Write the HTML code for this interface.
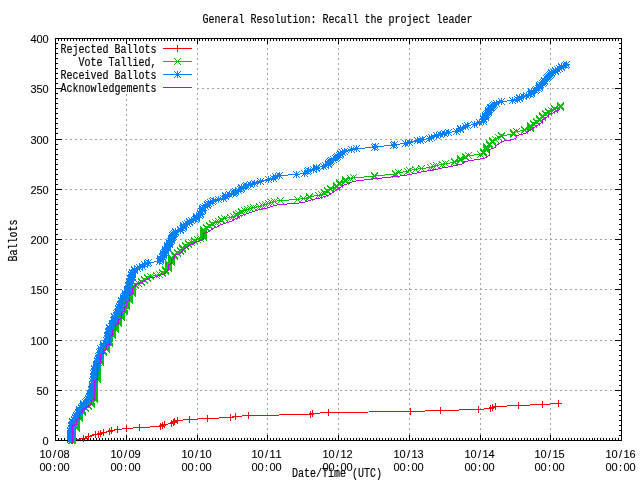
<!DOCTYPE html>
<html lang="en"><head><meta charset="utf-8"><title>General Resolution: Recall the project leader</title>
<style>
html,body{margin:0;padding:0;background:#fff;}
body{width:640px;height:480px;overflow:hidden;}
svg{display:block;}
text{font-family:"Liberation Mono",monospace;font-size:12px;fill:#000;stroke:#000;stroke-width:0.18px;filter:grayscale(1);}
text.n{font-family:"Liberation Sans",sans-serif;font-size:11px;stroke-width:0.1px;}
.ln{fill:none;stroke-width:1;}
</style></head><body>
<svg width="640" height="480" viewBox="0 0 640 480">
<rect x="0" y="0" width="640" height="480" fill="#fff"/>
<g shape-rendering="crispEdges" stroke="#a0a0a0" stroke-width="1" stroke-dasharray="2 3" fill="none">
<path d="M55 390.5H621"/>
<path d="M55 340.5H621"/>
<path d="M55 289.5H621"/>
<path d="M55 239.5H621"/>
<path d="M55 189.5H621"/>
<path d="M55 139.5H621"/>
<path d="M197 88.5H621"/>
<path d="M126.5 94V440" stroke-dashoffset="0"/>
<path d="M197.5 38V440" stroke-dashoffset="0"/>
<path d="M267.5 38V440" stroke-dashoffset="0"/>
<path d="M338.5 38V440" stroke-dashoffset="0"/>
<path d="M409.5 38V440" stroke-dashoffset="0"/>
<path d="M480.5 38V440" stroke-dashoffset="0"/>
<path d="M550.5 38V440" stroke-dashoffset="0"/>
</g>
<g shape-rendering="crispEdges" stroke="#000" stroke-width="1" fill="none">
<path d="M55 440.5h7M622 440.5h-7M55 435.5h3M622 435.5h-3M55 430.5h3M622 430.5h-3M55 425.5h3M622 425.5h-3M55 420.5h3M622 420.5h-3M55 415.5h3M622 415.5h-3M55 410.5h3M622 410.5h-3M55 405.5h3M622 405.5h-3M55 400.5h3M622 400.5h-3M55 395.5h3M622 395.5h-3M55 390.5h7M622 390.5h-7M55 385.5h3M622 385.5h-3M55 380.5h3M622 380.5h-3M55 375.5h3M622 375.5h-3M55 370.5h3M622 370.5h-3M55 365.5h3M622 365.5h-3M55 360.5h3M622 360.5h-3M55 355.5h3M622 355.5h-3M55 350.5h3M622 350.5h-3M55 345.5h3M622 345.5h-3M55 340.5h7M622 340.5h-7M55 334.5h3M622 334.5h-3M55 329.5h3M622 329.5h-3M55 324.5h3M622 324.5h-3M55 319.5h3M622 319.5h-3M55 314.5h3M622 314.5h-3M55 309.5h3M622 309.5h-3M55 304.5h3M622 304.5h-3M55 299.5h3M622 299.5h-3M55 294.5h3M622 294.5h-3M55 289.5h7M622 289.5h-7M55 284.5h3M622 284.5h-3M55 279.5h3M622 279.5h-3M55 274.5h3M622 274.5h-3M55 269.5h3M622 269.5h-3M55 264.5h3M622 264.5h-3M55 259.5h3M622 259.5h-3M55 254.5h3M622 254.5h-3M55 249.5h3M622 249.5h-3M55 244.5h3M622 244.5h-3M55 239.5h7M622 239.5h-7M55 234.5h3M622 234.5h-3M55 229.5h3M622 229.5h-3M55 224.5h3M622 224.5h-3M55 219.5h3M622 219.5h-3M55 214.5h3M622 214.5h-3M55 209.5h3M622 209.5h-3M55 204.5h3M622 204.5h-3M55 199.5h3M622 199.5h-3M55 194.5h3M622 194.5h-3M55 189.5h7M622 189.5h-7M55 184.5h3M622 184.5h-3M55 179.5h3M622 179.5h-3M55 174.5h3M622 174.5h-3M55 169.5h3M622 169.5h-3M55 164.5h3M622 164.5h-3M55 159.5h3M622 159.5h-3M55 154.5h3M622 154.5h-3M55 149.5h3M622 149.5h-3M55 144.5h3M622 144.5h-3M55 139.5h7M622 139.5h-7M55 133.5h3M622 133.5h-3M55 128.5h3M622 128.5h-3M55 123.5h3M622 123.5h-3M55 118.5h3M622 118.5h-3M55 113.5h3M622 113.5h-3M55 108.5h3M622 108.5h-3M55 103.5h3M622 103.5h-3M55 98.5h3M622 98.5h-3M55 93.5h3M622 93.5h-3M55 88.5h7M622 88.5h-7M55 83.5h3M622 83.5h-3M55 78.5h3M622 78.5h-3M55 73.5h3M622 73.5h-3M55 68.5h3M622 68.5h-3M55 63.5h3M622 63.5h-3M55 58.5h3M622 58.5h-3M55 53.5h3M622 53.5h-3M55 48.5h3M622 48.5h-3M55 43.5h3M622 43.5h-3M55 38.5h7M622 38.5h-7M55.5 441v-6M55.5 38v6M58.5 441v-3M58.5 38v3M61.5 441v-3M61.5 38v3M64.5 441v-3M64.5 38v3M67.5 441v-3M67.5 38v3M70.5 441v-3M70.5 38v3M73.5 441v-3M73.5 38v3M76.5 441v-3M76.5 38v3M79.5 441v-3M79.5 38v3M82.5 441v-3M82.5 38v3M84.5 441v-3M84.5 38v3M87.5 441v-3M87.5 38v3M90.5 441v-3M90.5 38v3M93.5 441v-3M93.5 38v3M96.5 441v-3M96.5 38v3M99.5 441v-3M99.5 38v3M102.5 441v-3M102.5 38v3M105.5 441v-3M105.5 38v3M108.5 441v-3M108.5 38v3M111.5 441v-3M111.5 38v3M114.5 441v-3M114.5 38v3M117.5 441v-3M117.5 38v3M120.5 441v-3M120.5 38v3M123.5 441v-3M123.5 38v3M126.5 441v-6M126.5 38v6M129.5 441v-3M129.5 38v3M132.5 441v-3M132.5 38v3M135.5 441v-3M135.5 38v3M138.5 441v-3M138.5 38v3M140.5 441v-3M140.5 38v3M143.5 441v-3M143.5 38v3M146.5 441v-3M146.5 38v3M149.5 441v-3M149.5 38v3M152.5 441v-3M152.5 38v3M155.5 441v-3M155.5 38v3M158.5 441v-3M158.5 38v3M161.5 441v-3M161.5 38v3M164.5 441v-3M164.5 38v3M167.5 441v-3M167.5 38v3M170.5 441v-3M170.5 38v3M173.5 441v-3M173.5 38v3M176.5 441v-3M176.5 38v3M179.5 441v-3M179.5 38v3M182.5 441v-3M182.5 38v3M185.5 441v-3M185.5 38v3M188.5 441v-3M188.5 38v3M191.5 441v-3M191.5 38v3M194.5 441v-3M194.5 38v3M197.5 441v-6M197.5 38v6M199.5 441v-3M199.5 38v3M202.5 441v-3M202.5 38v3M205.5 441v-3M205.5 38v3M208.5 441v-3M208.5 38v3M211.5 441v-3M211.5 38v3M214.5 441v-3M214.5 38v3M217.5 441v-3M217.5 38v3M220.5 441v-3M220.5 38v3M223.5 441v-3M223.5 38v3M226.5 441v-3M226.5 38v3M229.5 441v-3M229.5 38v3M232.5 441v-3M232.5 38v3M235.5 441v-3M235.5 38v3M238.5 441v-3M238.5 38v3M241.5 441v-3M241.5 38v3M244.5 441v-3M244.5 38v3M247.5 441v-3M247.5 38v3M250.5 441v-3M250.5 38v3M253.5 441v-3M253.5 38v3M255.5 441v-3M255.5 38v3M258.5 441v-3M258.5 38v3M261.5 441v-3M261.5 38v3M264.5 441v-3M264.5 38v3M267.5 441v-6M267.5 38v6M270.5 441v-3M270.5 38v3M273.5 441v-3M273.5 38v3M276.5 441v-3M276.5 38v3M279.5 441v-3M279.5 38v3M282.5 441v-3M282.5 38v3M285.5 441v-3M285.5 38v3M288.5 441v-3M288.5 38v3M291.5 441v-3M291.5 38v3M294.5 441v-3M294.5 38v3M297.5 441v-3M297.5 38v3M300.5 441v-3M300.5 38v3M303.5 441v-3M303.5 38v3M306.5 441v-3M306.5 38v3M309.5 441v-3M309.5 38v3M311.5 441v-3M311.5 38v3M314.5 441v-3M314.5 38v3M317.5 441v-3M317.5 38v3M320.5 441v-3M320.5 38v3M323.5 441v-3M323.5 38v3M326.5 441v-3M326.5 38v3M329.5 441v-3M329.5 38v3M332.5 441v-3M332.5 38v3M335.5 441v-3M335.5 38v3M338.5 441v-6M338.5 38v6M341.5 441v-3M341.5 38v3M344.5 441v-3M344.5 38v3M347.5 441v-3M347.5 38v3M350.5 441v-3M350.5 38v3M353.5 441v-3M353.5 38v3M356.5 441v-3M356.5 38v3M359.5 441v-3M359.5 38v3M362.5 441v-3M362.5 38v3M365.5 441v-3M365.5 38v3M367.5 441v-3M367.5 38v3M370.5 441v-3M370.5 38v3M373.5 441v-3M373.5 38v3M376.5 441v-3M376.5 38v3M379.5 441v-3M379.5 38v3M382.5 441v-3M382.5 38v3M385.5 441v-3M385.5 38v3M388.5 441v-3M388.5 38v3M391.5 441v-3M391.5 38v3M394.5 441v-3M394.5 38v3M397.5 441v-3M397.5 38v3M400.5 441v-3M400.5 38v3M403.5 441v-3M403.5 38v3M406.5 441v-3M406.5 38v3M409.5 441v-6M409.5 38v6M412.5 441v-3M412.5 38v3M415.5 441v-3M415.5 38v3M418.5 441v-3M418.5 38v3M421.5 441v-3M421.5 38v3M423.5 441v-3M423.5 38v3M426.5 441v-3M426.5 38v3M429.5 441v-3M429.5 38v3M432.5 441v-3M432.5 38v3M435.5 441v-3M435.5 38v3M438.5 441v-3M438.5 38v3M441.5 441v-3M441.5 38v3M444.5 441v-3M444.5 38v3M447.5 441v-3M447.5 38v3M450.5 441v-3M450.5 38v3M453.5 441v-3M453.5 38v3M456.5 441v-3M456.5 38v3M459.5 441v-3M459.5 38v3M462.5 441v-3M462.5 38v3M465.5 441v-3M465.5 38v3M468.5 441v-3M468.5 38v3M471.5 441v-3M471.5 38v3M474.5 441v-3M474.5 38v3M477.5 441v-3M477.5 38v3M480.5 441v-6M480.5 38v6M482.5 441v-3M482.5 38v3M485.5 441v-3M485.5 38v3M488.5 441v-3M488.5 38v3M491.5 441v-3M491.5 38v3M494.5 441v-3M494.5 38v3M497.5 441v-3M497.5 38v3M500.5 441v-3M500.5 38v3M503.5 441v-3M503.5 38v3M506.5 441v-3M506.5 38v3M509.5 441v-3M509.5 38v3M512.5 441v-3M512.5 38v3M515.5 441v-3M515.5 38v3M518.5 441v-3M518.5 38v3M521.5 441v-3M521.5 38v3M524.5 441v-3M524.5 38v3M527.5 441v-3M527.5 38v3M530.5 441v-3M530.5 38v3M533.5 441v-3M533.5 38v3M536.5 441v-3M536.5 38v3M538.5 441v-3M538.5 38v3M541.5 441v-3M541.5 38v3M544.5 441v-3M544.5 38v3M547.5 441v-3M547.5 38v3M550.5 441v-6M550.5 38v6M553.5 441v-3M553.5 38v3M556.5 441v-3M556.5 38v3M559.5 441v-3M559.5 38v3M562.5 441v-3M562.5 38v3M565.5 441v-3M565.5 38v3M568.5 441v-3M568.5 38v3M571.5 441v-3M571.5 38v3M574.5 441v-3M574.5 38v3M577.5 441v-3M577.5 38v3M580.5 441v-3M580.5 38v3M583.5 441v-3M583.5 38v3M586.5 441v-3M586.5 38v3M589.5 441v-3M589.5 38v3M592.5 441v-3M592.5 38v3M594.5 441v-3M594.5 38v3M597.5 441v-3M597.5 38v3M600.5 441v-3M600.5 38v3M603.5 441v-3M603.5 38v3M606.5 441v-3M606.5 38v3M609.5 441v-3M609.5 38v3M612.5 441v-3M612.5 38v3M615.5 441v-3M615.5 38v3M618.5 441v-3M618.5 38v3M621.5 441v-6M621.5 38v6"/>
<rect x="55.5" y="38.5" width="566" height="402"/>
</g>
<defs>
<clipPath id="c"><rect x="55" y="38" width="567" height="408"/></clipPath>
<path id="mp" d="M-3 .5H4M.5 -3V4" stroke-width="1" fill="none"/>
<path id="mx" d="M-3 -3L4 4M-3 4L4 -3" stroke-width="1" fill="none"/>
<path id="ms" d="M-3 .5H4M.5 -3V4M-3 -3L4 4M-3 4L4 -3" stroke-width="1" fill="none"/>
</defs>
<g stroke="#ff0000" shape-rendering="crispEdges">
<polyline class="ln" points="72.5,440.5 83.5,438.5 88.5,436.5 95.5,434.5 98.5,434.5 100.5,433.5 103.5,432.5 109.5,431.5 111.5,430.5 117.5,429.5 126.5,428.5 139.5,427.5 160.5,426.5 162.5,425.5 164.5,424.5 171.5,423.5 173.5,422.5 174.5,421.5 177.5,420.5 189.5,419.5 207.5,418.5 230.5,417.5 235.5,416.5 248.5,415.5 310.5,414.5 312.5,413.5 328.5,412.5 410.5,411.5 440.5,410.5 478.5,409.5 490.5,408.5 492.5,407.5 495.5,406.5 518.5,405.5 542.5,404.5 558.5,403.5"/>
<use href="#mp" x="72" y="440"/>
<use href="#mp" x="83" y="438"/>
<use href="#mp" x="88" y="436"/>
<use href="#mp" x="95" y="434"/>
<use href="#mp" x="98" y="434"/>
<use href="#mp" x="100" y="433"/>
<use href="#mp" x="103" y="432"/>
<use href="#mp" x="109" y="431"/>
<use href="#mp" x="111" y="430"/>
<use href="#mp" x="117" y="429"/>
<use href="#mp" x="126" y="428"/>
<use href="#mp" x="139" y="427"/>
<use href="#mp" x="160" y="426"/>
<use href="#mp" x="162" y="425"/>
<use href="#mp" x="164" y="424"/>
<use href="#mp" x="171" y="423"/>
<use href="#mp" x="173" y="422"/>
<use href="#mp" x="174" y="421"/>
<use href="#mp" x="177" y="420"/>
<use href="#mp" x="189" y="419"/>
<use href="#mp" x="207" y="418"/>
<use href="#mp" x="230" y="417"/>
<use href="#mp" x="235" y="416"/>
<use href="#mp" x="248" y="415"/>
<use href="#mp" x="310" y="414"/>
<use href="#mp" x="312" y="413"/>
<use href="#mp" x="328" y="412"/>
<use href="#mp" x="410" y="411"/>
<use href="#mp" x="440" y="410"/>
<use href="#mp" x="478" y="409"/>
<use href="#mp" x="490" y="408"/>
<use href="#mp" x="492" y="407"/>
<use href="#mp" x="495" y="406"/>
<use href="#mp" x="518" y="405"/>
<use href="#mp" x="542" y="404"/>
<use href="#mp" x="558" y="403"/>
</g>
<g clip-path="url(#c)">
<g stroke="#00c000" shape-rendering="crispEdges">
<polyline class="ln" points="72.5,440.5 72.5,439.5 72.5,438.5 72.5,437.5 72.5,436.5 72.5,435.5 72.5,434.5 72.5,433.5 72.5,432.5 72.5,431.5 72.5,430.5 72.5,429.5 76.5,428.5 76.5,427.5 76.5,426.5 76.5,425.5 76.5,424.5 76.5,423.5 76.5,422.5 76.5,421.5 76.5,420.5 76.5,419.5 79.5,418.5 79.5,417.5 79.5,416.5 79.5,415.5 79.5,414.5 79.5,413.5 82.5,412.5 82.5,411.5 82.5,410.5 82.5,409.5 85.5,408.5 85.5,407.5 88.5,406.5 88.5,405.5 91.5,404.5 91.5,403.5 91.5,402.5 91.5,401.5 91.5,400.5 94.5,399.5 94.5,398.5 94.5,397.5 94.5,396.5 94.5,395.5 94.5,394.5 94.5,393.5 94.5,392.5 94.5,391.5 94.5,390.5 94.5,389.5 94.5,388.5 94.5,387.5 94.5,386.5 94.5,385.5 94.5,384.5 94.5,383.5 94.5,382.5 94.5,381.5 94.5,380.5 97.5,379.5 97.5,378.5 97.5,377.5 97.5,376.5 97.5,375.5 97.5,374.5 97.5,373.5 97.5,372.5 97.5,371.5 97.5,370.5 97.5,369.5 97.5,368.5 97.5,367.5 97.5,366.5 97.5,365.5 97.5,364.5 97.5,363.5 100.5,362.5 100.5,361.5 100.5,360.5 100.5,359.5 100.5,358.5 100.5,357.5 100.5,356.5 100.5,355.5 100.5,354.5 100.5,353.5 103.5,352.5 103.5,351.5 103.5,350.5 106.5,349.5 106.5,348.5 106.5,347.5 106.5,346.5 106.5,345.5 106.5,344.5 109.5,343.5 109.5,342.5 109.5,341.5 109.5,340.5 109.5,338.5 109.5,337.5 109.5,336.5 112.5,335.5 112.5,334.5 112.5,333.5 112.5,332.5 112.5,331.5 112.5,330.5 115.5,329.5 115.5,328.5 115.5,327.5 115.5,326.5 115.5,325.5 115.5,324.5 118.5,323.5 118.5,322.5 118.5,321.5 118.5,320.5 118.5,319.5 118.5,318.5 121.5,317.5 121.5,316.5 121.5,315.5 121.5,314.5 121.5,313.5 121.5,312.5 124.5,311.5 124.5,310.5 124.5,309.5 124.5,308.5 124.5,307.5 126.5,306.5 126.5,305.5 126.5,304.5 126.5,303.5 126.5,302.5 126.5,301.5 129.5,300.5 129.5,299.5 129.5,298.5 129.5,297.5 129.5,296.5 129.5,295.5 129.5,294.5 132.5,293.5 132.5,292.5 132.5,291.5 132.5,290.5 132.5,289.5 132.5,288.5 132.5,287.5 132.5,286.5 135.5,285.5 135.5,284.5 138.5,283.5 141.5,282.5 141.5,281.5 144.5,280.5 144.5,279.5 147.5,278.5 147.5,277.5 150.5,276.5 156.5,275.5 159.5,274.5 162.5,273.5 162.5,272.5 165.5,271.5 165.5,270.5 165.5,269.5 168.5,268.5 168.5,267.5 168.5,266.5 168.5,265.5 168.5,264.5 168.5,263.5 171.5,262.5 171.5,261.5 171.5,260.5 171.5,259.5 171.5,258.5 171.5,257.5 174.5,256.5 174.5,255.5 174.5,254.5 177.5,253.5 177.5,252.5 180.5,251.5 180.5,250.5 182.5,249.5 182.5,248.5 182.5,247.5 185.5,246.5 185.5,245.5 188.5,244.5 188.5,243.5 191.5,242.5 194.5,241.5 194.5,240.5 197.5,239.5 200.5,238.5 203.5,237.5 203.5,236.5 203.5,235.5 203.5,234.5 203.5,233.5 203.5,232.5 203.5,231.5 203.5,230.5 203.5,229.5 206.5,228.5 206.5,227.5 209.5,226.5 209.5,225.5 212.5,224.5 212.5,223.5 215.5,222.5 218.5,221.5 221.5,220.5 221.5,219.5 224.5,218.5 230.5,217.5 233.5,216.5 236.5,215.5 236.5,214.5 238.5,213.5 241.5,212.5 241.5,211.5 244.5,210.5 247.5,209.5 250.5,208.5 253.5,207.5 259.5,206.5 262.5,205.5 265.5,204.5 268.5,203.5 271.5,202.5 274.5,201.5 280.5,200.5 297.5,199.5 303.5,198.5 309.5,197.5 309.5,196.5 318.5,195.5 321.5,194.5 324.5,193.5 324.5,192.5 327.5,191.5 327.5,190.5 330.5,189.5 330.5,188.5 336.5,187.5 336.5,186.5 336.5,185.5 339.5,184.5 339.5,183.5 339.5,182.5 345.5,181.5 345.5,180.5 345.5,179.5 350.5,178.5 353.5,177.5 374.5,176.5 374.5,175.5 395.5,174.5 395.5,173.5 398.5,172.5 407.5,171.5 409.5,170.5 415.5,169.5 421.5,168.5 430.5,167.5 433.5,166.5 436.5,165.5 442.5,164.5 445.5,163.5 454.5,162.5 454.5,161.5 460.5,160.5 460.5,159.5 460.5,158.5 465.5,157.5 465.5,156.5 468.5,155.5 480.5,154.5 483.5,153.5 483.5,152.5 483.5,151.5 486.5,150.5 486.5,149.5 486.5,148.5 486.5,147.5 486.5,146.5 489.5,145.5 489.5,144.5 489.5,143.5 492.5,142.5 492.5,141.5 492.5,140.5 495.5,139.5 498.5,137.5 501.5,136.5 501.5,135.5 513.5,134.5 513.5,133.5 513.5,132.5 516.5,131.5 524.5,130.5 524.5,129.5 530.5,128.5 530.5,127.5 530.5,126.5 530.5,125.5 533.5,124.5 533.5,123.5 536.5,122.5 536.5,121.5 539.5,120.5 539.5,119.5 539.5,118.5 542.5,117.5 542.5,116.5 542.5,115.5 545.5,114.5 545.5,113.5 548.5,112.5 548.5,111.5 551.5,110.5 554.5,109.5 554.5,108.5 560.5,107.5 560.5,106.5 560.5,105.5"/>
<use href="#mx" x="72" y="440"/>
<use href="#mx" x="72" y="439"/>
<use href="#mx" x="72" y="438"/>
<use href="#mx" x="72" y="437"/>
<use href="#mx" x="72" y="436"/>
<use href="#mx" x="72" y="435"/>
<use href="#mx" x="72" y="434"/>
<use href="#mx" x="72" y="433"/>
<use href="#mx" x="72" y="432"/>
<use href="#mx" x="72" y="431"/>
<use href="#mx" x="72" y="430"/>
<use href="#mx" x="72" y="429"/>
<use href="#mx" x="76" y="428"/>
<use href="#mx" x="76" y="427"/>
<use href="#mx" x="76" y="426"/>
<use href="#mx" x="76" y="425"/>
<use href="#mx" x="76" y="424"/>
<use href="#mx" x="76" y="423"/>
<use href="#mx" x="76" y="422"/>
<use href="#mx" x="76" y="421"/>
<use href="#mx" x="76" y="420"/>
<use href="#mx" x="76" y="419"/>
<use href="#mx" x="79" y="418"/>
<use href="#mx" x="79" y="417"/>
<use href="#mx" x="79" y="416"/>
<use href="#mx" x="79" y="415"/>
<use href="#mx" x="79" y="414"/>
<use href="#mx" x="79" y="413"/>
<use href="#mx" x="82" y="412"/>
<use href="#mx" x="82" y="411"/>
<use href="#mx" x="82" y="410"/>
<use href="#mx" x="82" y="409"/>
<use href="#mx" x="85" y="408"/>
<use href="#mx" x="85" y="407"/>
<use href="#mx" x="88" y="406"/>
<use href="#mx" x="88" y="405"/>
<use href="#mx" x="91" y="404"/>
<use href="#mx" x="91" y="403"/>
<use href="#mx" x="91" y="402"/>
<use href="#mx" x="91" y="401"/>
<use href="#mx" x="91" y="400"/>
<use href="#mx" x="94" y="399"/>
<use href="#mx" x="94" y="398"/>
<use href="#mx" x="94" y="397"/>
<use href="#mx" x="94" y="396"/>
<use href="#mx" x="94" y="395"/>
<use href="#mx" x="94" y="394"/>
<use href="#mx" x="94" y="393"/>
<use href="#mx" x="94" y="392"/>
<use href="#mx" x="94" y="391"/>
<use href="#mx" x="94" y="390"/>
<use href="#mx" x="94" y="389"/>
<use href="#mx" x="94" y="388"/>
<use href="#mx" x="94" y="387"/>
<use href="#mx" x="94" y="386"/>
<use href="#mx" x="94" y="385"/>
<use href="#mx" x="94" y="384"/>
<use href="#mx" x="94" y="383"/>
<use href="#mx" x="94" y="382"/>
<use href="#mx" x="94" y="381"/>
<use href="#mx" x="94" y="380"/>
<use href="#mx" x="97" y="379"/>
<use href="#mx" x="97" y="378"/>
<use href="#mx" x="97" y="377"/>
<use href="#mx" x="97" y="376"/>
<use href="#mx" x="97" y="375"/>
<use href="#mx" x="97" y="374"/>
<use href="#mx" x="97" y="373"/>
<use href="#mx" x="97" y="372"/>
<use href="#mx" x="97" y="371"/>
<use href="#mx" x="97" y="370"/>
<use href="#mx" x="97" y="369"/>
<use href="#mx" x="97" y="368"/>
<use href="#mx" x="97" y="367"/>
<use href="#mx" x="97" y="366"/>
<use href="#mx" x="97" y="365"/>
<use href="#mx" x="97" y="364"/>
<use href="#mx" x="97" y="363"/>
<use href="#mx" x="100" y="362"/>
<use href="#mx" x="100" y="361"/>
<use href="#mx" x="100" y="360"/>
<use href="#mx" x="100" y="359"/>
<use href="#mx" x="100" y="358"/>
<use href="#mx" x="100" y="357"/>
<use href="#mx" x="100" y="356"/>
<use href="#mx" x="100" y="355"/>
<use href="#mx" x="100" y="354"/>
<use href="#mx" x="100" y="353"/>
<use href="#mx" x="103" y="352"/>
<use href="#mx" x="103" y="351"/>
<use href="#mx" x="103" y="350"/>
<use href="#mx" x="106" y="349"/>
<use href="#mx" x="106" y="348"/>
<use href="#mx" x="106" y="347"/>
<use href="#mx" x="106" y="346"/>
<use href="#mx" x="106" y="345"/>
<use href="#mx" x="106" y="344"/>
<use href="#mx" x="109" y="343"/>
<use href="#mx" x="109" y="342"/>
<use href="#mx" x="109" y="341"/>
<use href="#mx" x="109" y="340"/>
<use href="#mx" x="109" y="338"/>
<use href="#mx" x="109" y="337"/>
<use href="#mx" x="109" y="336"/>
<use href="#mx" x="112" y="335"/>
<use href="#mx" x="112" y="334"/>
<use href="#mx" x="112" y="333"/>
<use href="#mx" x="112" y="332"/>
<use href="#mx" x="112" y="331"/>
<use href="#mx" x="112" y="330"/>
<use href="#mx" x="115" y="329"/>
<use href="#mx" x="115" y="328"/>
<use href="#mx" x="115" y="327"/>
<use href="#mx" x="115" y="326"/>
<use href="#mx" x="115" y="325"/>
<use href="#mx" x="115" y="324"/>
<use href="#mx" x="118" y="323"/>
<use href="#mx" x="118" y="322"/>
<use href="#mx" x="118" y="321"/>
<use href="#mx" x="118" y="320"/>
<use href="#mx" x="118" y="319"/>
<use href="#mx" x="118" y="318"/>
<use href="#mx" x="121" y="317"/>
<use href="#mx" x="121" y="316"/>
<use href="#mx" x="121" y="315"/>
<use href="#mx" x="121" y="314"/>
<use href="#mx" x="121" y="313"/>
<use href="#mx" x="121" y="312"/>
<use href="#mx" x="124" y="311"/>
<use href="#mx" x="124" y="310"/>
<use href="#mx" x="124" y="309"/>
<use href="#mx" x="124" y="308"/>
<use href="#mx" x="124" y="307"/>
<use href="#mx" x="126" y="306"/>
<use href="#mx" x="126" y="305"/>
<use href="#mx" x="126" y="304"/>
<use href="#mx" x="126" y="303"/>
<use href="#mx" x="126" y="302"/>
<use href="#mx" x="126" y="301"/>
<use href="#mx" x="129" y="300"/>
<use href="#mx" x="129" y="299"/>
<use href="#mx" x="129" y="298"/>
<use href="#mx" x="129" y="297"/>
<use href="#mx" x="129" y="296"/>
<use href="#mx" x="129" y="295"/>
<use href="#mx" x="129" y="294"/>
<use href="#mx" x="132" y="293"/>
<use href="#mx" x="132" y="292"/>
<use href="#mx" x="132" y="291"/>
<use href="#mx" x="132" y="290"/>
<use href="#mx" x="132" y="289"/>
<use href="#mx" x="132" y="288"/>
<use href="#mx" x="132" y="287"/>
<use href="#mx" x="132" y="286"/>
<use href="#mx" x="135" y="285"/>
<use href="#mx" x="135" y="284"/>
<use href="#mx" x="138" y="283"/>
<use href="#mx" x="141" y="282"/>
<use href="#mx" x="141" y="281"/>
<use href="#mx" x="144" y="280"/>
<use href="#mx" x="144" y="279"/>
<use href="#mx" x="147" y="278"/>
<use href="#mx" x="147" y="277"/>
<use href="#mx" x="150" y="276"/>
<use href="#mx" x="156" y="275"/>
<use href="#mx" x="159" y="274"/>
<use href="#mx" x="162" y="273"/>
<use href="#mx" x="162" y="272"/>
<use href="#mx" x="165" y="271"/>
<use href="#mx" x="165" y="270"/>
<use href="#mx" x="165" y="269"/>
<use href="#mx" x="168" y="268"/>
<use href="#mx" x="168" y="267"/>
<use href="#mx" x="168" y="266"/>
<use href="#mx" x="168" y="265"/>
<use href="#mx" x="168" y="264"/>
<use href="#mx" x="168" y="263"/>
<use href="#mx" x="171" y="262"/>
<use href="#mx" x="171" y="261"/>
<use href="#mx" x="171" y="260"/>
<use href="#mx" x="171" y="259"/>
<use href="#mx" x="171" y="258"/>
<use href="#mx" x="171" y="257"/>
<use href="#mx" x="174" y="256"/>
<use href="#mx" x="174" y="255"/>
<use href="#mx" x="174" y="254"/>
<use href="#mx" x="177" y="253"/>
<use href="#mx" x="177" y="252"/>
<use href="#mx" x="180" y="251"/>
<use href="#mx" x="180" y="250"/>
<use href="#mx" x="182" y="249"/>
<use href="#mx" x="182" y="248"/>
<use href="#mx" x="182" y="247"/>
<use href="#mx" x="185" y="246"/>
<use href="#mx" x="185" y="245"/>
<use href="#mx" x="188" y="244"/>
<use href="#mx" x="188" y="243"/>
<use href="#mx" x="191" y="242"/>
<use href="#mx" x="194" y="241"/>
<use href="#mx" x="194" y="240"/>
<use href="#mx" x="197" y="239"/>
<use href="#mx" x="200" y="238"/>
<use href="#mx" x="203" y="237"/>
<use href="#mx" x="203" y="236"/>
<use href="#mx" x="203" y="235"/>
<use href="#mx" x="203" y="234"/>
<use href="#mx" x="203" y="233"/>
<use href="#mx" x="203" y="232"/>
<use href="#mx" x="203" y="231"/>
<use href="#mx" x="203" y="230"/>
<use href="#mx" x="203" y="229"/>
<use href="#mx" x="206" y="228"/>
<use href="#mx" x="206" y="227"/>
<use href="#mx" x="209" y="226"/>
<use href="#mx" x="209" y="225"/>
<use href="#mx" x="212" y="224"/>
<use href="#mx" x="212" y="223"/>
<use href="#mx" x="215" y="222"/>
<use href="#mx" x="218" y="221"/>
<use href="#mx" x="221" y="220"/>
<use href="#mx" x="221" y="219"/>
<use href="#mx" x="224" y="218"/>
<use href="#mx" x="230" y="217"/>
<use href="#mx" x="233" y="216"/>
<use href="#mx" x="236" y="215"/>
<use href="#mx" x="236" y="214"/>
<use href="#mx" x="238" y="213"/>
<use href="#mx" x="241" y="212"/>
<use href="#mx" x="241" y="211"/>
<use href="#mx" x="244" y="210"/>
<use href="#mx" x="247" y="209"/>
<use href="#mx" x="250" y="208"/>
<use href="#mx" x="253" y="207"/>
<use href="#mx" x="259" y="206"/>
<use href="#mx" x="262" y="205"/>
<use href="#mx" x="265" y="204"/>
<use href="#mx" x="268" y="203"/>
<use href="#mx" x="271" y="202"/>
<use href="#mx" x="274" y="201"/>
<use href="#mx" x="280" y="200"/>
<use href="#mx" x="297" y="199"/>
<use href="#mx" x="303" y="198"/>
<use href="#mx" x="309" y="197"/>
<use href="#mx" x="309" y="196"/>
<use href="#mx" x="318" y="195"/>
<use href="#mx" x="321" y="194"/>
<use href="#mx" x="324" y="193"/>
<use href="#mx" x="324" y="192"/>
<use href="#mx" x="327" y="191"/>
<use href="#mx" x="327" y="190"/>
<use href="#mx" x="330" y="189"/>
<use href="#mx" x="330" y="188"/>
<use href="#mx" x="336" y="187"/>
<use href="#mx" x="336" y="186"/>
<use href="#mx" x="336" y="185"/>
<use href="#mx" x="339" y="184"/>
<use href="#mx" x="339" y="183"/>
<use href="#mx" x="339" y="182"/>
<use href="#mx" x="345" y="181"/>
<use href="#mx" x="345" y="180"/>
<use href="#mx" x="345" y="179"/>
<use href="#mx" x="350" y="178"/>
<use href="#mx" x="353" y="177"/>
<use href="#mx" x="374" y="176"/>
<use href="#mx" x="374" y="175"/>
<use href="#mx" x="395" y="174"/>
<use href="#mx" x="395" y="173"/>
<use href="#mx" x="398" y="172"/>
<use href="#mx" x="407" y="171"/>
<use href="#mx" x="409" y="170"/>
<use href="#mx" x="415" y="169"/>
<use href="#mx" x="421" y="168"/>
<use href="#mx" x="430" y="167"/>
<use href="#mx" x="433" y="166"/>
<use href="#mx" x="436" y="165"/>
<use href="#mx" x="442" y="164"/>
<use href="#mx" x="445" y="163"/>
<use href="#mx" x="454" y="162"/>
<use href="#mx" x="454" y="161"/>
<use href="#mx" x="460" y="160"/>
<use href="#mx" x="460" y="159"/>
<use href="#mx" x="460" y="158"/>
<use href="#mx" x="465" y="157"/>
<use href="#mx" x="465" y="156"/>
<use href="#mx" x="468" y="155"/>
<use href="#mx" x="480" y="154"/>
<use href="#mx" x="483" y="153"/>
<use href="#mx" x="483" y="152"/>
<use href="#mx" x="483" y="151"/>
<use href="#mx" x="486" y="150"/>
<use href="#mx" x="486" y="149"/>
<use href="#mx" x="486" y="148"/>
<use href="#mx" x="486" y="147"/>
<use href="#mx" x="486" y="146"/>
<use href="#mx" x="489" y="145"/>
<use href="#mx" x="489" y="144"/>
<use href="#mx" x="489" y="143"/>
<use href="#mx" x="492" y="142"/>
<use href="#mx" x="492" y="141"/>
<use href="#mx" x="492" y="140"/>
<use href="#mx" x="495" y="139"/>
<use href="#mx" x="498" y="137"/>
<use href="#mx" x="501" y="136"/>
<use href="#mx" x="501" y="135"/>
<use href="#mx" x="513" y="134"/>
<use href="#mx" x="513" y="133"/>
<use href="#mx" x="513" y="132"/>
<use href="#mx" x="516" y="131"/>
<use href="#mx" x="524" y="130"/>
<use href="#mx" x="524" y="129"/>
<use href="#mx" x="530" y="128"/>
<use href="#mx" x="530" y="127"/>
<use href="#mx" x="530" y="126"/>
<use href="#mx" x="530" y="125"/>
<use href="#mx" x="533" y="124"/>
<use href="#mx" x="533" y="123"/>
<use href="#mx" x="536" y="122"/>
<use href="#mx" x="536" y="121"/>
<use href="#mx" x="539" y="120"/>
<use href="#mx" x="539" y="119"/>
<use href="#mx" x="539" y="118"/>
<use href="#mx" x="542" y="117"/>
<use href="#mx" x="542" y="116"/>
<use href="#mx" x="542" y="115"/>
<use href="#mx" x="545" y="114"/>
<use href="#mx" x="545" y="113"/>
<use href="#mx" x="548" y="112"/>
<use href="#mx" x="548" y="111"/>
<use href="#mx" x="551" y="110"/>
<use href="#mx" x="554" y="109"/>
<use href="#mx" x="554" y="108"/>
<use href="#mx" x="560" y="107"/>
<use href="#mx" x="560" y="106"/>
<use href="#mx" x="560" y="105"/>
</g>
<g stroke="#0080ff" shape-rendering="crispEdges">
<polyline class="ln" points="71.5,440.5 70.5,439.5 70.5,438.5 71.5,437.5 71.5,436.5 70.5,435.5 70.5,434.5 71.5,433.5 71.5,432.5 70.5,431.5 70.5,430.5 71.5,429.5 72.5,428.5 71.5,426.5 71.5,425.5 73.5,424.5 73.5,423.5 72.5,422.5 72.5,421.5 74.5,420.5 74.5,419.5 75.5,418.5 75.5,417.5 76.5,416.5 76.5,415.5 77.5,414.5 78.5,413.5 78.5,412.5 79.5,411.5 79.5,410.5 79.5,409.5 81.5,408.5 81.5,407.5 82.5,406.5 83.5,405.5 83.5,404.5 83.5,403.5 85.5,402.5 86.5,401.5 87.5,400.5 88.5,399.5 88.5,398.5 89.5,397.5 89.5,396.5 90.5,395.5 90.5,394.5 90.5,393.5 91.5,392.5 92.5,391.5 91.5,390.5 91.5,389.5 92.5,388.5 92.5,387.5 92.5,386.5 92.5,385.5 93.5,384.5 93.5,383.5 92.5,381.5 93.5,380.5 94.5,379.5 94.5,378.5 93.5,377.5 93.5,376.5 94.5,375.5 94.5,374.5 93.5,373.5 94.5,372.5 95.5,371.5 95.5,370.5 94.5,369.5 94.5,368.5 96.5,367.5 96.5,366.5 96.5,365.5 96.5,364.5 97.5,363.5 98.5,362.5 97.5,361.5 97.5,360.5 98.5,359.5 98.5,358.5 98.5,356.5 99.5,355.5 100.5,354.5 100.5,353.5 99.5,352.5 100.5,351.5 101.5,350.5 101.5,349.5 100.5,348.5 102.5,347.5 103.5,346.5 103.5,345.5 103.5,344.5 105.5,343.5 107.5,342.5 107.5,341.5 106.5,340.5 107.5,339.5 108.5,338.5 108.5,337.5 107.5,336.5 107.5,335.5 108.5,334.5 109.5,333.5 108.5,332.5 108.5,331.5 109.5,330.5 110.5,329.5 109.5,328.5 109.5,327.5 111.5,326.5 112.5,325.5 112.5,324.5 112.5,323.5 114.5,322.5 114.5,321.5 113.5,320.5 114.5,319.5 115.5,318.5 114.5,317.5 114.5,316.5 116.5,315.5 117.5,314.5 116.5,313.5 117.5,312.5 119.5,311.5 119.5,310.5 118.5,309.5 118.5,308.5 119.5,307.5 119.5,306.5 120.5,305.5 120.5,304.5 122.5,303.5 121.5,301.5 121.5,300.5 123.5,299.5 123.5,298.5 123.5,297.5 124.5,296.5 125.5,295.5 125.5,294.5 125.5,293.5 127.5,292.5 127.5,291.5 127.5,290.5 127.5,289.5 128.5,288.5 128.5,286.5 128.5,285.5 129.5,284.5 130.5,283.5 129.5,282.5 129.5,281.5 131.5,280.5 130.5,279.5 130.5,278.5 132.5,277.5 132.5,276.5 131.5,275.5 131.5,274.5 132.5,273.5 132.5,272.5 134.5,270.5 134.5,269.5 137.5,268.5 139.5,267.5 142.5,266.5 144.5,264.5 147.5,263.5 148.5,262.5 159.5,261.5 160.5,260.5 160.5,259.5 160.5,258.5 162.5,257.5 162.5,256.5 163.5,255.5 163.5,254.5 163.5,253.5 164.5,252.5 165.5,251.5 165.5,250.5 165.5,249.5 167.5,248.5 167.5,247.5 167.5,246.5 167.5,245.5 169.5,244.5 169.5,243.5 169.5,242.5 170.5,241.5 171.5,240.5 171.5,239.5 171.5,238.5 172.5,237.5 173.5,236.5 172.5,235.5 173.5,234.5 174.5,233.5 175.5,232.5 175.5,231.5 180.5,230.5 180.5,229.5 182.5,228.5 183.5,227.5 183.5,226.5 183.5,225.5 185.5,224.5 187.5,223.5 189.5,222.5 189.5,221.5 191.5,220.5 195.5,219.5 196.5,218.5 196.5,217.5 196.5,216.5 199.5,215.5 200.5,214.5 200.5,213.5 201.5,211.5 202.5,210.5 202.5,209.5 202.5,208.5 203.5,207.5 205.5,206.5 207.5,205.5 207.5,204.5 208.5,203.5 210.5,202.5 212.5,201.5 213.5,200.5 218.5,199.5 223.5,198.5 225.5,196.5 225.5,195.5 229.5,194.5 233.5,193.5 234.5,192.5 235.5,191.5 238.5,190.5 240.5,189.5 241.5,188.5 241.5,187.5 245.5,186.5 246.5,185.5 250.5,184.5 254.5,183.5 260.5,181.5 268.5,179.5 273.5,178.5 275.5,176.5 279.5,175.5 296.5,174.5 304.5,173.5 307.5,171.5 308.5,170.5 313.5,169.5 316.5,168.5 316.5,167.5 323.5,166.5 325.5,165.5 328.5,164.5 328.5,163.5 329.5,162.5 330.5,161.5 331.5,160.5 333.5,159.5 335.5,158.5 336.5,157.5 337.5,156.5 339.5,155.5 340.5,154.5 340.5,153.5 342.5,152.5 344.5,151.5 351.5,149.5 356.5,148.5 374.5,147.5 375.5,146.5 393.5,145.5 394.5,144.5 405.5,143.5 409.5,142.5 417.5,140.5 420.5,140.5 422.5,139.5 429.5,138.5 431.5,137.5 436.5,135.5 440.5,134.5 444.5,133.5 448.5,132.5 456.5,131.5 460.5,129.5 460.5,128.5 465.5,126.5 467.5,125.5 474.5,124.5 479.5,122.5 483.5,121.5 483.5,119.5 483.5,118.5 485.5,117.5 485.5,116.5 485.5,115.5 486.5,114.5 487.5,113.5 488.5,112.5 488.5,111.5 488.5,110.5 489.5,109.5 490.5,108.5 490.5,107.5 491.5,107.5 492.5,106.5 493.5,105.5 494.5,104.5 496.5,103.5 501.5,101.5 512.5,100.5 517.5,99.5 519.5,98.5 519.5,97.5 523.5,96.5 526.5,95.5 530.5,94.5 531.5,93.5 531.5,92.5 531.5,91.5 535.5,90.5 536.5,89.5 538.5,88.5 539.5,87.5 539.5,86.5 539.5,85.5 540.5,84.5 542.5,83.5 543.5,82.5 544.5,81.5 544.5,80.5 546.5,78.5 547.5,77.5 548.5,76.5 549.5,75.5 550.5,74.5 551.5,73.5 551.5,72.5 555.5,71.5 555.5,70.5 557.5,69.5 559.5,68.5 561.5,67.5 561.5,66.5 565.5,65.5 566.5,64.5"/>
<use href="#ms" x="71" y="440"/>
<use href="#ms" x="70" y="439"/>
<use href="#ms" x="70" y="438"/>
<use href="#ms" x="71" y="437"/>
<use href="#ms" x="71" y="436"/>
<use href="#ms" x="70" y="435"/>
<use href="#ms" x="70" y="434"/>
<use href="#ms" x="71" y="433"/>
<use href="#ms" x="71" y="432"/>
<use href="#ms" x="70" y="431"/>
<use href="#ms" x="70" y="430"/>
<use href="#ms" x="71" y="429"/>
<use href="#ms" x="72" y="428"/>
<use href="#ms" x="71" y="426"/>
<use href="#ms" x="71" y="425"/>
<use href="#ms" x="73" y="424"/>
<use href="#ms" x="73" y="423"/>
<use href="#ms" x="72" y="422"/>
<use href="#ms" x="72" y="421"/>
<use href="#ms" x="74" y="420"/>
<use href="#ms" x="74" y="419"/>
<use href="#ms" x="75" y="418"/>
<use href="#ms" x="75" y="417"/>
<use href="#ms" x="76" y="416"/>
<use href="#ms" x="76" y="415"/>
<use href="#ms" x="77" y="414"/>
<use href="#ms" x="78" y="413"/>
<use href="#ms" x="78" y="412"/>
<use href="#ms" x="79" y="411"/>
<use href="#ms" x="79" y="410"/>
<use href="#ms" x="79" y="409"/>
<use href="#ms" x="81" y="408"/>
<use href="#ms" x="81" y="407"/>
<use href="#ms" x="82" y="406"/>
<use href="#ms" x="83" y="405"/>
<use href="#ms" x="83" y="404"/>
<use href="#ms" x="83" y="403"/>
<use href="#ms" x="85" y="402"/>
<use href="#ms" x="86" y="401"/>
<use href="#ms" x="87" y="400"/>
<use href="#ms" x="88" y="399"/>
<use href="#ms" x="88" y="398"/>
<use href="#ms" x="89" y="397"/>
<use href="#ms" x="89" y="396"/>
<use href="#ms" x="90" y="395"/>
<use href="#ms" x="90" y="394"/>
<use href="#ms" x="90" y="393"/>
<use href="#ms" x="91" y="392"/>
<use href="#ms" x="92" y="391"/>
<use href="#ms" x="91" y="390"/>
<use href="#ms" x="91" y="389"/>
<use href="#ms" x="92" y="388"/>
<use href="#ms" x="92" y="387"/>
<use href="#ms" x="92" y="386"/>
<use href="#ms" x="92" y="385"/>
<use href="#ms" x="93" y="384"/>
<use href="#ms" x="93" y="383"/>
<use href="#ms" x="92" y="381"/>
<use href="#ms" x="93" y="380"/>
<use href="#ms" x="94" y="379"/>
<use href="#ms" x="94" y="378"/>
<use href="#ms" x="93" y="377"/>
<use href="#ms" x="93" y="376"/>
<use href="#ms" x="94" y="375"/>
<use href="#ms" x="94" y="374"/>
<use href="#ms" x="93" y="373"/>
<use href="#ms" x="94" y="372"/>
<use href="#ms" x="95" y="371"/>
<use href="#ms" x="95" y="370"/>
<use href="#ms" x="94" y="369"/>
<use href="#ms" x="94" y="368"/>
<use href="#ms" x="96" y="367"/>
<use href="#ms" x="96" y="366"/>
<use href="#ms" x="96" y="365"/>
<use href="#ms" x="96" y="364"/>
<use href="#ms" x="97" y="363"/>
<use href="#ms" x="98" y="362"/>
<use href="#ms" x="97" y="361"/>
<use href="#ms" x="97" y="360"/>
<use href="#ms" x="98" y="359"/>
<use href="#ms" x="98" y="358"/>
<use href="#ms" x="98" y="356"/>
<use href="#ms" x="99" y="355"/>
<use href="#ms" x="100" y="354"/>
<use href="#ms" x="100" y="353"/>
<use href="#ms" x="99" y="352"/>
<use href="#ms" x="100" y="351"/>
<use href="#ms" x="101" y="350"/>
<use href="#ms" x="101" y="349"/>
<use href="#ms" x="100" y="348"/>
<use href="#ms" x="102" y="347"/>
<use href="#ms" x="103" y="346"/>
<use href="#ms" x="103" y="345"/>
<use href="#ms" x="103" y="344"/>
<use href="#ms" x="105" y="343"/>
<use href="#ms" x="107" y="342"/>
<use href="#ms" x="107" y="341"/>
<use href="#ms" x="106" y="340"/>
<use href="#ms" x="107" y="339"/>
<use href="#ms" x="108" y="338"/>
<use href="#ms" x="108" y="337"/>
<use href="#ms" x="107" y="336"/>
<use href="#ms" x="107" y="335"/>
<use href="#ms" x="108" y="334"/>
<use href="#ms" x="109" y="333"/>
<use href="#ms" x="108" y="332"/>
<use href="#ms" x="108" y="331"/>
<use href="#ms" x="109" y="330"/>
<use href="#ms" x="110" y="329"/>
<use href="#ms" x="109" y="328"/>
<use href="#ms" x="109" y="327"/>
<use href="#ms" x="111" y="326"/>
<use href="#ms" x="112" y="325"/>
<use href="#ms" x="112" y="324"/>
<use href="#ms" x="112" y="323"/>
<use href="#ms" x="114" y="322"/>
<use href="#ms" x="114" y="321"/>
<use href="#ms" x="113" y="320"/>
<use href="#ms" x="114" y="319"/>
<use href="#ms" x="115" y="318"/>
<use href="#ms" x="114" y="317"/>
<use href="#ms" x="114" y="316"/>
<use href="#ms" x="116" y="315"/>
<use href="#ms" x="117" y="314"/>
<use href="#ms" x="116" y="313"/>
<use href="#ms" x="117" y="312"/>
<use href="#ms" x="119" y="311"/>
<use href="#ms" x="119" y="310"/>
<use href="#ms" x="118" y="309"/>
<use href="#ms" x="118" y="308"/>
<use href="#ms" x="119" y="307"/>
<use href="#ms" x="119" y="306"/>
<use href="#ms" x="120" y="305"/>
<use href="#ms" x="120" y="304"/>
<use href="#ms" x="122" y="303"/>
<use href="#ms" x="121" y="301"/>
<use href="#ms" x="121" y="300"/>
<use href="#ms" x="123" y="299"/>
<use href="#ms" x="123" y="298"/>
<use href="#ms" x="123" y="297"/>
<use href="#ms" x="124" y="296"/>
<use href="#ms" x="125" y="295"/>
<use href="#ms" x="125" y="294"/>
<use href="#ms" x="125" y="293"/>
<use href="#ms" x="127" y="292"/>
<use href="#ms" x="127" y="291"/>
<use href="#ms" x="127" y="290"/>
<use href="#ms" x="127" y="289"/>
<use href="#ms" x="128" y="288"/>
<use href="#ms" x="128" y="286"/>
<use href="#ms" x="128" y="285"/>
<use href="#ms" x="129" y="284"/>
<use href="#ms" x="130" y="283"/>
<use href="#ms" x="129" y="282"/>
<use href="#ms" x="129" y="281"/>
<use href="#ms" x="131" y="280"/>
<use href="#ms" x="130" y="279"/>
<use href="#ms" x="130" y="278"/>
<use href="#ms" x="132" y="277"/>
<use href="#ms" x="132" y="276"/>
<use href="#ms" x="131" y="275"/>
<use href="#ms" x="131" y="274"/>
<use href="#ms" x="132" y="273"/>
<use href="#ms" x="132" y="272"/>
<use href="#ms" x="134" y="270"/>
<use href="#ms" x="134" y="269"/>
<use href="#ms" x="137" y="268"/>
<use href="#ms" x="139" y="267"/>
<use href="#ms" x="142" y="266"/>
<use href="#ms" x="144" y="264"/>
<use href="#ms" x="147" y="263"/>
<use href="#ms" x="148" y="262"/>
<use href="#ms" x="159" y="261"/>
<use href="#ms" x="160" y="260"/>
<use href="#ms" x="160" y="259"/>
<use href="#ms" x="160" y="258"/>
<use href="#ms" x="162" y="257"/>
<use href="#ms" x="162" y="256"/>
<use href="#ms" x="163" y="255"/>
<use href="#ms" x="163" y="254"/>
<use href="#ms" x="163" y="253"/>
<use href="#ms" x="164" y="252"/>
<use href="#ms" x="165" y="251"/>
<use href="#ms" x="165" y="250"/>
<use href="#ms" x="165" y="249"/>
<use href="#ms" x="167" y="248"/>
<use href="#ms" x="167" y="247"/>
<use href="#ms" x="167" y="246"/>
<use href="#ms" x="167" y="245"/>
<use href="#ms" x="169" y="244"/>
<use href="#ms" x="169" y="243"/>
<use href="#ms" x="169" y="242"/>
<use href="#ms" x="170" y="241"/>
<use href="#ms" x="171" y="240"/>
<use href="#ms" x="171" y="239"/>
<use href="#ms" x="171" y="238"/>
<use href="#ms" x="172" y="237"/>
<use href="#ms" x="173" y="236"/>
<use href="#ms" x="172" y="235"/>
<use href="#ms" x="173" y="234"/>
<use href="#ms" x="174" y="233"/>
<use href="#ms" x="175" y="232"/>
<use href="#ms" x="175" y="231"/>
<use href="#ms" x="180" y="230"/>
<use href="#ms" x="180" y="229"/>
<use href="#ms" x="182" y="228"/>
<use href="#ms" x="183" y="227"/>
<use href="#ms" x="183" y="226"/>
<use href="#ms" x="183" y="225"/>
<use href="#ms" x="185" y="224"/>
<use href="#ms" x="187" y="223"/>
<use href="#ms" x="189" y="222"/>
<use href="#ms" x="189" y="221"/>
<use href="#ms" x="191" y="220"/>
<use href="#ms" x="195" y="219"/>
<use href="#ms" x="196" y="218"/>
<use href="#ms" x="196" y="217"/>
<use href="#ms" x="196" y="216"/>
<use href="#ms" x="199" y="215"/>
<use href="#ms" x="200" y="214"/>
<use href="#ms" x="200" y="213"/>
<use href="#ms" x="201" y="211"/>
<use href="#ms" x="202" y="210"/>
<use href="#ms" x="202" y="209"/>
<use href="#ms" x="202" y="208"/>
<use href="#ms" x="203" y="207"/>
<use href="#ms" x="205" y="206"/>
<use href="#ms" x="207" y="205"/>
<use href="#ms" x="207" y="204"/>
<use href="#ms" x="208" y="203"/>
<use href="#ms" x="210" y="202"/>
<use href="#ms" x="212" y="201"/>
<use href="#ms" x="213" y="200"/>
<use href="#ms" x="218" y="199"/>
<use href="#ms" x="223" y="198"/>
<use href="#ms" x="225" y="196"/>
<use href="#ms" x="225" y="195"/>
<use href="#ms" x="229" y="194"/>
<use href="#ms" x="233" y="193"/>
<use href="#ms" x="234" y="192"/>
<use href="#ms" x="235" y="191"/>
<use href="#ms" x="238" y="190"/>
<use href="#ms" x="240" y="189"/>
<use href="#ms" x="241" y="188"/>
<use href="#ms" x="241" y="187"/>
<use href="#ms" x="245" y="186"/>
<use href="#ms" x="246" y="185"/>
<use href="#ms" x="250" y="184"/>
<use href="#ms" x="254" y="183"/>
<use href="#ms" x="260" y="181"/>
<use href="#ms" x="268" y="179"/>
<use href="#ms" x="273" y="178"/>
<use href="#ms" x="275" y="176"/>
<use href="#ms" x="279" y="175"/>
<use href="#ms" x="296" y="174"/>
<use href="#ms" x="304" y="173"/>
<use href="#ms" x="307" y="171"/>
<use href="#ms" x="308" y="170"/>
<use href="#ms" x="313" y="169"/>
<use href="#ms" x="316" y="168"/>
<use href="#ms" x="316" y="167"/>
<use href="#ms" x="323" y="166"/>
<use href="#ms" x="325" y="165"/>
<use href="#ms" x="328" y="164"/>
<use href="#ms" x="328" y="163"/>
<use href="#ms" x="329" y="162"/>
<use href="#ms" x="330" y="161"/>
<use href="#ms" x="331" y="160"/>
<use href="#ms" x="333" y="159"/>
<use href="#ms" x="335" y="158"/>
<use href="#ms" x="336" y="157"/>
<use href="#ms" x="337" y="156"/>
<use href="#ms" x="339" y="155"/>
<use href="#ms" x="340" y="154"/>
<use href="#ms" x="340" y="153"/>
<use href="#ms" x="342" y="152"/>
<use href="#ms" x="344" y="151"/>
<use href="#ms" x="351" y="149"/>
<use href="#ms" x="356" y="148"/>
<use href="#ms" x="374" y="147"/>
<use href="#ms" x="375" y="146"/>
<use href="#ms" x="393" y="145"/>
<use href="#ms" x="394" y="144"/>
<use href="#ms" x="405" y="143"/>
<use href="#ms" x="409" y="142"/>
<use href="#ms" x="417" y="140"/>
<use href="#ms" x="420" y="140"/>
<use href="#ms" x="422" y="139"/>
<use href="#ms" x="429" y="138"/>
<use href="#ms" x="431" y="137"/>
<use href="#ms" x="436" y="135"/>
<use href="#ms" x="440" y="134"/>
<use href="#ms" x="444" y="133"/>
<use href="#ms" x="448" y="132"/>
<use href="#ms" x="456" y="131"/>
<use href="#ms" x="460" y="129"/>
<use href="#ms" x="460" y="128"/>
<use href="#ms" x="465" y="126"/>
<use href="#ms" x="467" y="125"/>
<use href="#ms" x="474" y="124"/>
<use href="#ms" x="479" y="122"/>
<use href="#ms" x="483" y="121"/>
<use href="#ms" x="483" y="119"/>
<use href="#ms" x="483" y="118"/>
<use href="#ms" x="485" y="117"/>
<use href="#ms" x="485" y="116"/>
<use href="#ms" x="485" y="115"/>
<use href="#ms" x="486" y="114"/>
<use href="#ms" x="487" y="113"/>
<use href="#ms" x="488" y="112"/>
<use href="#ms" x="488" y="111"/>
<use href="#ms" x="488" y="110"/>
<use href="#ms" x="489" y="109"/>
<use href="#ms" x="490" y="108"/>
<use href="#ms" x="490" y="107"/>
<use href="#ms" x="491" y="107"/>
<use href="#ms" x="492" y="106"/>
<use href="#ms" x="493" y="105"/>
<use href="#ms" x="494" y="104"/>
<use href="#ms" x="496" y="103"/>
<use href="#ms" x="501" y="101"/>
<use href="#ms" x="512" y="100"/>
<use href="#ms" x="517" y="99"/>
<use href="#ms" x="519" y="98"/>
<use href="#ms" x="519" y="97"/>
<use href="#ms" x="523" y="96"/>
<use href="#ms" x="526" y="95"/>
<use href="#ms" x="530" y="94"/>
<use href="#ms" x="531" y="93"/>
<use href="#ms" x="531" y="92"/>
<use href="#ms" x="531" y="91"/>
<use href="#ms" x="535" y="90"/>
<use href="#ms" x="536" y="89"/>
<use href="#ms" x="538" y="88"/>
<use href="#ms" x="539" y="87"/>
<use href="#ms" x="539" y="86"/>
<use href="#ms" x="539" y="85"/>
<use href="#ms" x="540" y="84"/>
<use href="#ms" x="542" y="83"/>
<use href="#ms" x="543" y="82"/>
<use href="#ms" x="544" y="81"/>
<use href="#ms" x="544" y="80"/>
<use href="#ms" x="546" y="78"/>
<use href="#ms" x="547" y="77"/>
<use href="#ms" x="548" y="76"/>
<use href="#ms" x="549" y="75"/>
<use href="#ms" x="550" y="74"/>
<use href="#ms" x="551" y="73"/>
<use href="#ms" x="551" y="72"/>
<use href="#ms" x="555" y="71"/>
<use href="#ms" x="555" y="70"/>
<use href="#ms" x="557" y="69"/>
<use href="#ms" x="559" y="68"/>
<use href="#ms" x="561" y="67"/>
<use href="#ms" x="561" y="66"/>
<use href="#ms" x="565" y="65"/>
<use href="#ms" x="566" y="64"/>
</g>
<g stroke="#c000ff" shape-rendering="crispEdges">
<polyline class="ln" points="72.5,440.5 72.5,439.5 72.5,438.5 72.5,437.5 72.5,436.5 72.5,435.5 72.5,434.5 72.5,433.5 72.5,432.5 72.5,431.5 72.5,430.5 72.5,429.5 72.5,428.5 72.5,427.5 72.5,426.5 72.5,425.5 76.5,424.5 76.5,423.5 76.5,422.5 76.5,421.5 76.5,420.5 76.5,419.5 79.5,418.5 79.5,417.5 79.5,416.5 79.5,415.5 79.5,414.5 79.5,413.5 82.5,412.5 82.5,411.5 82.5,410.5 82.5,409.5 85.5,408.5 85.5,407.5 88.5,406.5 88.5,405.5 91.5,404.5 91.5,403.5 91.5,402.5 91.5,401.5 91.5,400.5 94.5,399.5 94.5,398.5 94.5,397.5 94.5,396.5 94.5,395.5 94.5,394.5 94.5,393.5 94.5,392.5 94.5,391.5 94.5,390.5 94.5,389.5 94.5,388.5 94.5,387.5 94.5,386.5 94.5,385.5 94.5,384.5 94.5,383.5 94.5,382.5 94.5,381.5 94.5,380.5 97.5,379.5 97.5,378.5 97.5,377.5 97.5,376.5 97.5,375.5 97.5,374.5 97.5,373.5 97.5,372.5 97.5,371.5 97.5,370.5 97.5,369.5 97.5,368.5 97.5,367.5 97.5,366.5 97.5,365.5 97.5,364.5 97.5,363.5 100.5,362.5 100.5,361.5 100.5,360.5 100.5,359.5 100.5,358.5 100.5,357.5 100.5,356.5 100.5,355.5 100.5,354.5 103.5,353.5 103.5,352.5 103.5,351.5 103.5,350.5 106.5,349.5 106.5,348.5 106.5,347.5 106.5,346.5 106.5,345.5 109.5,344.5 109.5,343.5 109.5,342.5 109.5,341.5 109.5,340.5 109.5,338.5 109.5,337.5 109.5,336.5 112.5,335.5 112.5,334.5 112.5,333.5 112.5,332.5 112.5,331.5 112.5,330.5 115.5,329.5 115.5,328.5 115.5,327.5 115.5,326.5 115.5,325.5 115.5,324.5 118.5,323.5 118.5,322.5 118.5,321.5 118.5,320.5 118.5,319.5 121.5,318.5 121.5,317.5 121.5,316.5 121.5,315.5 121.5,314.5 121.5,313.5 121.5,312.5 124.5,311.5 124.5,310.5 124.5,309.5 124.5,308.5 124.5,307.5 126.5,306.5 126.5,305.5 126.5,304.5 126.5,303.5 126.5,302.5 126.5,301.5 129.5,300.5 129.5,299.5 129.5,298.5 129.5,297.5 129.5,296.5 129.5,295.5 129.5,294.5 132.5,293.5 132.5,292.5 132.5,291.5 132.5,290.5 132.5,289.5 132.5,288.5 132.5,287.5 135.5,286.5 135.5,285.5 135.5,284.5 138.5,283.5 141.5,282.5 144.5,281.5 144.5,280.5 147.5,279.5 147.5,278.5 153.5,277.5 156.5,276.5 159.5,275.5 162.5,274.5 165.5,273.5 165.5,272.5 165.5,271.5 168.5,270.5 168.5,269.5 168.5,268.5 168.5,267.5 168.5,266.5 168.5,265.5 168.5,264.5 171.5,263.5 171.5,262.5 171.5,261.5 171.5,260.5 171.5,259.5 174.5,258.5 174.5,257.5 174.5,256.5 174.5,255.5 177.5,254.5 180.5,253.5 180.5,252.5 182.5,251.5 182.5,250.5 182.5,249.5 185.5,248.5 185.5,247.5 188.5,246.5 188.5,245.5 191.5,244.5 194.5,243.5 194.5,242.5 197.5,241.5 200.5,240.5 203.5,239.5 203.5,238.5 203.5,237.5 203.5,236.5 203.5,235.5 203.5,234.5 203.5,233.5 206.5,232.5 209.5,231.5 209.5,230.5 212.5,229.5 212.5,228.5 215.5,227.5 218.5,226.5 218.5,225.5 221.5,224.5 224.5,223.5 227.5,222.5 230.5,221.5 233.5,220.5 233.5,219.5 236.5,218.5 238.5,217.5 238.5,216.5 241.5,215.5 244.5,214.5 247.5,213.5 250.5,212.5 253.5,211.5 256.5,210.5 259.5,209.5 265.5,208.5 268.5,207.5 271.5,206.5 274.5,205.5 280.5,204.5 294.5,203.5 303.5,202.5 306.5,201.5 309.5,200.5 312.5,199.5 318.5,198.5 321.5,197.5 324.5,196.5 327.5,195.5 330.5,194.5 330.5,193.5 333.5,192.5 333.5,191.5 336.5,190.5 336.5,189.5 339.5,188.5 339.5,187.5 342.5,186.5 342.5,185.5 345.5,184.5 348.5,183.5 350.5,182.5 353.5,181.5 359.5,180.5 368.5,179.5 377.5,178.5 386.5,177.5 395.5,176.5 404.5,175.5 409.5,174.5 415.5,173.5 418.5,172.5 424.5,171.5 430.5,170.5 436.5,169.5 439.5,168.5 445.5,167.5 451.5,166.5 454.5,165.5 460.5,164.5 463.5,163.5 463.5,162.5 465.5,161.5 471.5,160.5 477.5,159.5 483.5,158.5 486.5,157.5 486.5,156.5 489.5,155.5 489.5,154.5 489.5,153.5 489.5,152.5 489.5,151.5 489.5,150.5 489.5,149.5 492.5,148.5 495.5,147.5 495.5,146.5 495.5,145.5 498.5,144.5 498.5,143.5 501.5,142.5 501.5,141.5 507.5,140.5 513.5,139.5 516.5,137.5 516.5,136.5 516.5,135.5 521.5,134.5 524.5,133.5 527.5,132.5 527.5,131.5 530.5,130.5 530.5,129.5 533.5,128.5 533.5,127.5 536.5,126.5 536.5,125.5 539.5,124.5 539.5,123.5 542.5,122.5 542.5,121.5 542.5,120.5 542.5,119.5 545.5,118.5 545.5,117.5 548.5,116.5 548.5,115.5 548.5,114.5 551.5,113.5 554.5,112.5 554.5,111.5 557.5,110.5 560.5,109.5"/>
</g>
</g>
<text x="156.5" y="53" text-anchor="end" textLength="96" lengthAdjust="spacingAndGlyphs">Rejected Ballots</text>
<g stroke="#ff0000" shape-rendering="crispEdges"><path class="ln" d="M163 48.5H192"/><use href="#mp" x="177" y="48"/></g>
<text x="156.5" y="66" text-anchor="end" textLength="78" lengthAdjust="spacingAndGlyphs">Vote Tallied,</text>
<g stroke="#00c000" shape-rendering="crispEdges"><path class="ln" d="M163 61.5H192"/><use href="#mx" x="177" y="61"/></g>
<text x="156.5" y="79" text-anchor="end" textLength="96" lengthAdjust="spacingAndGlyphs">Received Ballots</text>
<g stroke="#0080ff" shape-rendering="crispEdges"><path class="ln" d="M163 74.5H192"/><use href="#ms" x="177" y="74"/></g>
<text x="156.5" y="92" text-anchor="end" textLength="96" lengthAdjust="spacingAndGlyphs">Acknowledgements</text>
<g stroke="#c000ff" shape-rendering="crispEdges"><path class="ln" d="M163 87.5H192"/></g>
<text x="337.5" y="23" text-anchor="middle" textLength="270" lengthAdjust="spacingAndGlyphs">General Resolution: Recall the project leader</text>
<text class="n" x="45.5" y="445" text-anchor="middle">0</text>
<text class="n" x="39.5 45.5" y="395" text-anchor="middle">50</text>
<text class="n" x="33.5 39.5 45.5" y="345" text-anchor="middle">100</text>
<text class="n" x="33.5 39.5 45.5" y="294" text-anchor="middle">150</text>
<text class="n" x="33.5 39.5 45.5" y="244" text-anchor="middle">200</text>
<text class="n" x="33.5 39.5 45.5" y="194" text-anchor="middle">250</text>
<text class="n" x="33.5 39.5 45.5" y="144" text-anchor="middle">300</text>
<text class="n" x="33.5 39.5 45.5" y="93" text-anchor="middle">350</text>
<text class="n" x="33.5 39.5 45.5" y="43" text-anchor="middle">400</text>
<text class="n" x="42.5 48.5 54.5 60.5 66.5" y="458" text-anchor="middle">10/08</text>
<text class="n" x="42.5 48.5 54.5 60.5 66.5" y="471" text-anchor="middle">00:00</text>
<text class="n" x="113.5 119.5 125.5 131.5 137.5" y="458" text-anchor="middle">10/09</text>
<text class="n" x="113.5 119.5 125.5 131.5 137.5" y="471" text-anchor="middle">00:00</text>
<text class="n" x="184.5 190.5 196.5 202.5 208.5" y="458" text-anchor="middle">10/10</text>
<text class="n" x="184.5 190.5 196.5 202.5 208.5" y="471" text-anchor="middle">00:00</text>
<text class="n" x="254.5 260.5 266.5 272.5 278.5" y="458" text-anchor="middle">10/11</text>
<text class="n" x="254.5 260.5 266.5 272.5 278.5" y="471" text-anchor="middle">00:00</text>
<text class="n" x="325.5 331.5 337.5 343.5 349.5" y="458" text-anchor="middle">10/12</text>
<text class="n" x="325.5 331.5 337.5 343.5 349.5" y="471" text-anchor="middle">00:00</text>
<text class="n" x="396.5 402.5 408.5 414.5 420.5" y="458" text-anchor="middle">10/13</text>
<text class="n" x="396.5 402.5 408.5 414.5 420.5" y="471" text-anchor="middle">00:00</text>
<text class="n" x="467.5 473.5 479.5 485.5 491.5" y="458" text-anchor="middle">10/14</text>
<text class="n" x="467.5 473.5 479.5 485.5 491.5" y="471" text-anchor="middle">00:00</text>
<text class="n" x="537.5 543.5 549.5 555.5 561.5" y="458" text-anchor="middle">10/15</text>
<text class="n" x="537.5 543.5 549.5 555.5 561.5" y="471" text-anchor="middle">00:00</text>
<text class="n" x="608.5 614.5 620.5 626.5 632.5" y="458" text-anchor="middle">10/16</text>
<text class="n" x="608.5 614.5 620.5 626.5 632.5" y="471" text-anchor="middle">00:00</text>
<text x="337" y="477" text-anchor="middle" textLength="90" lengthAdjust="spacingAndGlyphs">Date/Time (UTC)</text>
<text transform="translate(17,240.5) rotate(-90)" text-anchor="middle" textLength="42" lengthAdjust="spacingAndGlyphs">Ballots</text>
</svg></body></html>
